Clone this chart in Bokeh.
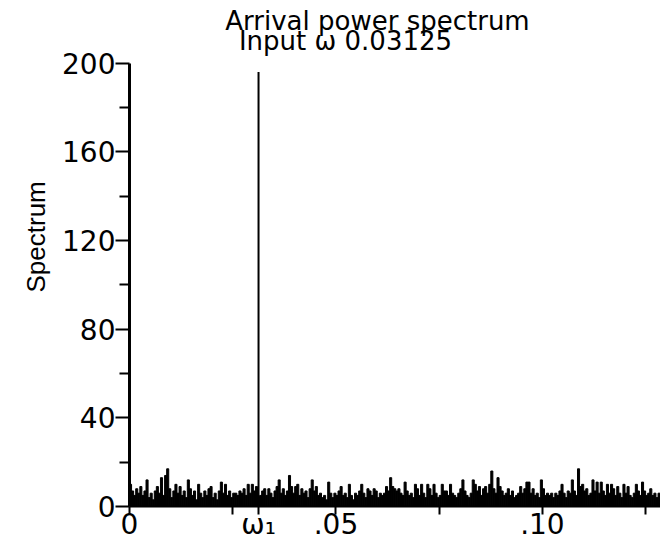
from bokeh.plotting import figure
from bokeh.models import Range1d, FixedTicker, Title, Label, ColumnDataSource
from bokeh.embed import file_html
from bokeh.resources import INLINE

# ---- text ----
title_line1 = "Arrival power spectrum"
title_line2 = "Input ω 0.03125"
y_label_text = "Spectrum"

# ---- axes ----
y_major_ticks = [0, 40, 80, 120, 160, 200]
y_minor_ticks = [20, 60, 100, 140, 180]
x_major_ticks = [0, 0.03125, 0.05, 0.10]
x_tick_labels = ["0", "ω₁", ".05", ".10"]
x_minor_ticks = [0.025, 0.075, 0.125]

# ---- data ----
omega1 = 0.03125
peak_power = 196
bin_width = 0.0005
noise_power = [
    10, 7, 5, 8, 6, 9, 5, 7, 12, 4, 6, 3, 7, 9, 6, 13, 5, 14, 17, 8,
    4, 7, 10, 6, 9, 5, 7, 4, 12, 8, 5, 7, 3, 10, 6, 4, 7, 5, 8, 9,
    4, 6, 3, 7, 11, 6, 10, 5, 7, 4, 6,
    6, 5, 7, 6, 8, 5, 10, 6, 10, 7, 9, 4, 5, 7, 8, 5, 8, 6, 4, 7,
    9, 12, 6, 8, 5, 7, 14, 9, 6, 9, 10, 5, 8, 6, 7, 4, 8, 12, 7, 9,
    5, 6, 4, 5, 3, 11, 6, 4, 6, 5, 7,
    9, 5, 6, 4, 10, 5, 3, 6, 5, 7, 10, 6, 4, 8, 7, 5, 8, 7, 4, 6,
    5, 6, 9, 7, 13, 9, 8, 7, 8, 6, 5, 11, 7, 5, 6, 4, 10, 8, 5, 10,
    6, 4, 10, 8, 5, 10, 6, 4, 5, 10, 7,
    7, 5, 10, 6, 5, 4, 6, 8, 12, 7, 5, 4, 6, 12, 10, 7, 9, 5, 8, 9,
    6, 10, 16, 8, 6, 13, 9, 7, 5, 6, 8, 5, 7, 4, 5, 6, 9, 6, 8, 11,
    11, 6, 8, 5, 6, 4, 12, 8, 5, 6,
    5, 6, 4, 6, 5, 7, 10, 6, 4, 7, 6, 12, 7, 5, 17, 9, 10, 7, 8, 5,
    6, 12, 7, 11, 6, 11, 7, 5, 10, 6, 10, 8, 5, 9, 6, 4, 10, 6, 9, 5,
    4, 6, 10, 7, 5, 11, 7, 5, 6, 8, 5, 6, 4, 6,
]
freq = [bin_width * (i + 0.5) for i in range(len(noise_power))]

FONT = "DejaVu Sans"

# frame spans the full height; the y axis is bounded to 0..200
p = figure(width=660, height=543, output_backend="svg", toolbar_location=None,
           title=None, x_range=Range1d(0, 0.1286), y_range=Range1d(0, 228.25),
           min_border_left=129, min_border_right=0, min_border_top=0,
           min_border_bottom=34)
p.outline_line_color = None
p.xgrid.visible = False
p.ygrid.visible = False
p.background_fill_color = "white"
p.border_fill_color = "white"

src = ColumnDataSource(dict(f=freq, power=noise_power))
p.vbar(x="f", top="power", bottom=0, width=bin_width, source=src,
       fill_color="black", line_color="black", line_width=1)
p.segment(x0=[omega1], y0=[0], x1=[omega1], y1=[peak_power],
          line_color="black", line_width=2)

# y axis
ya = p.yaxis[0]
ya.bounds = (y_major_ticks[0], y_major_ticks[-1])
ya.ticker = FixedTicker(ticks=y_major_ticks, minor_ticks=y_minor_ticks)
ya.axis_line_width = 3
ya.axis_line_color = "black"
ya.major_tick_line_width = 2
ya.minor_tick_line_width = 2
ya.major_tick_out = 14
ya.major_tick_in = 0
ya.minor_tick_out = 10
ya.minor_tick_in = 0
ya.major_label_standoff = 0
ya.major_label_text_font = FONT
ya.major_label_text_font_size = "28px"
ya.major_label_text_color = "black"

# x axis
xa = p.xaxis[0]
xa.ticker = FixedTicker(ticks=x_major_ticks, minor_ticks=x_minor_ticks)
xa.major_label_overrides = {t: lab for t, lab in zip(x_major_ticks, x_tick_labels)}
xa.axis_line_width = 2
xa.axis_line_color = "black"
xa.major_tick_line_width = 2
xa.minor_tick_line_width = 2
xa.major_tick_out = 8
xa.major_tick_in = 0
xa.minor_tick_out = 8
xa.minor_tick_in = 0
xa.major_label_standoff = -7
xa.major_label_text_font = FONT
xa.major_label_text_font_size = "28px"
xa.major_label_text_color = "black"

# titles inside the (extended) frame, screen units from frame's bottom-left
p.add_layout(Label(x=248, y=486, x_units="screen", y_units="screen",
                   text=title_line1, text_align="center", text_baseline="alphabetic",
                   text_font=FONT, text_font_size="26px", text_color="black"))
p.add_layout(Label(x=216, y=466, x_units="screen", y_units="screen",
                   text=title_line2, text_align="center", text_baseline="alphabetic",
                   text_font=FONT, text_font_size="26px", text_color="black"))

# y label
p.add_layout(Title(text=y_label_text, align="left", offset=214, standoff=15,
                   vertical_align="middle", text_font="Liberation Sans",
                   text_font_size="26px", text_font_style="normal",
                   text_color="black"), "left")

open("out.html", "w").write(file_html(p, INLINE))
